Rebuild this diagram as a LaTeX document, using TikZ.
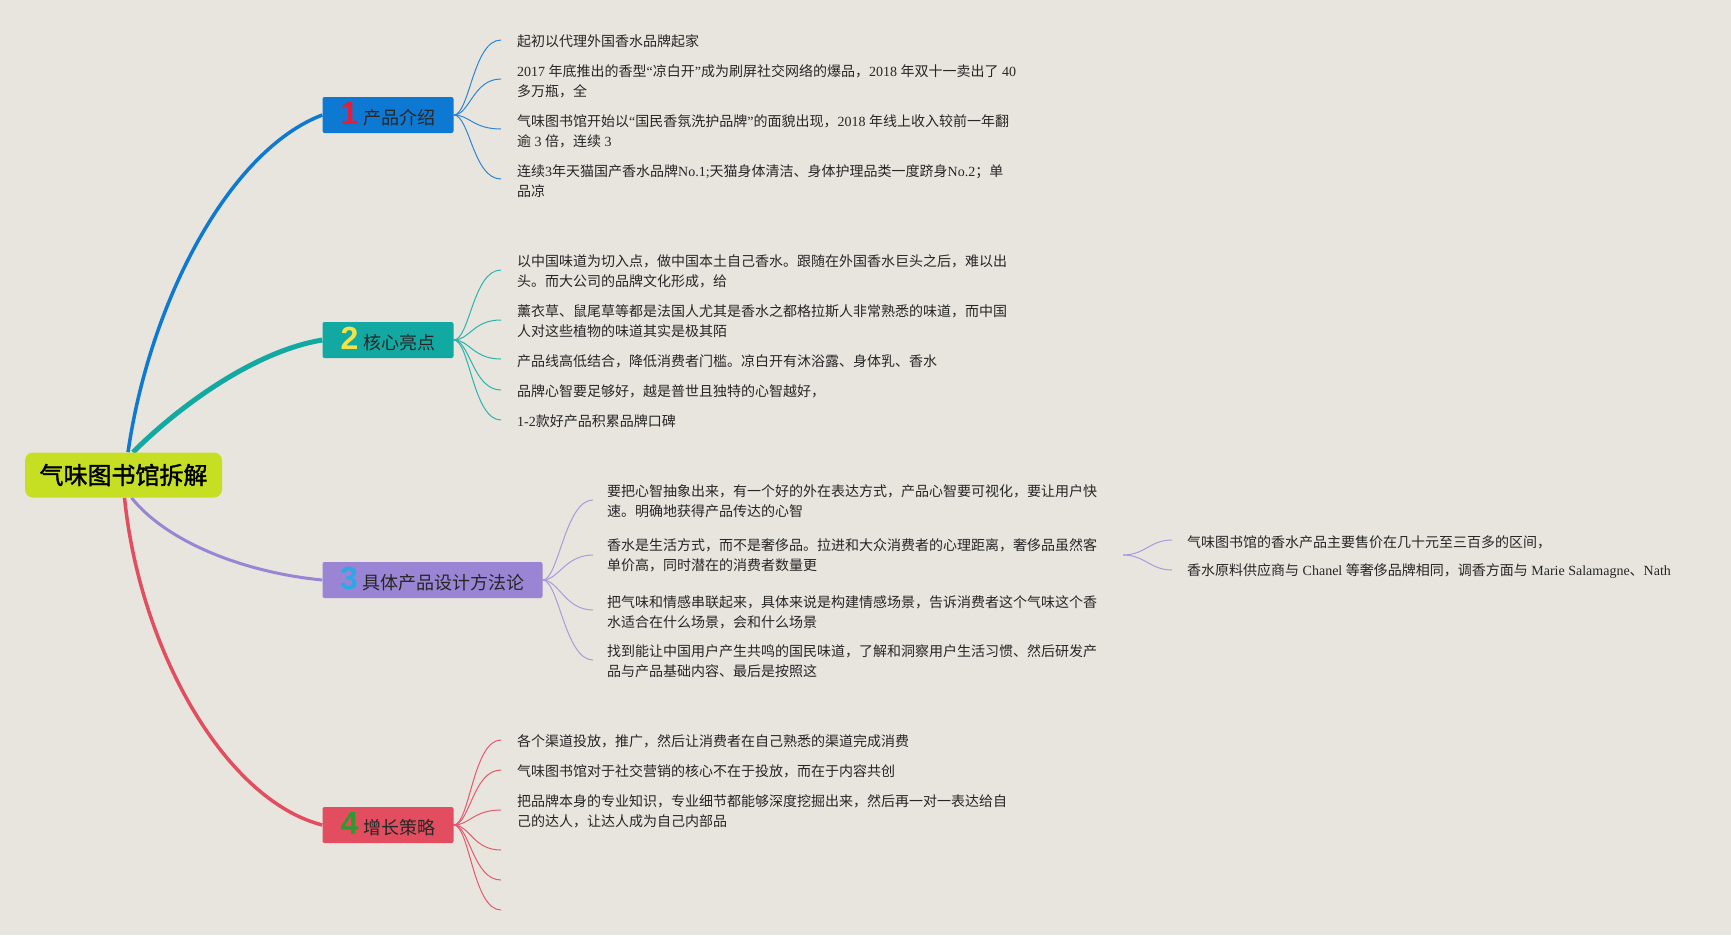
\documentclass[tikz,border=0pt]{standalone}
\usepackage{fontspec}
\setmainfont{Noto Sans CJK SC}
\newfontfamily\latf{Liberation Serif}
\newfontfamily\digf{Liberation Sans}
\newfontfamily\cjkb{Noto Sans CJK SC}[FakeBold=1.6]
\newcommand\lat[1]{{\latf #1}}
\newcommand\dig[2]{{\digf\bfseries\fontsize{32}{32}\selectfont\color{#1}#2}\hspace{5pt}}
\definecolor{bgc}{HTML}{E8E5DE}
\definecolor{c0}{HTML}{C6DF22}
\definecolor{cb}{HTML}{0E79D2}
\definecolor{ct}{HTML}{12A9A2}
\definecolor{cp}{HTML}{9A85D4}
\definecolor{cr}{HTML}{E24E60}
\definecolor{lb}{HTML}{2D86D5}
\definecolor{lt}{HTML}{28B5AE}
\definecolor{lp}{HTML}{A99BDD}
\definecolor{lr}{HTML}{E45A6E}
\definecolor{d1}{HTML}{E41E3A}
\definecolor{d2}{HTML}{F2E34A}
\definecolor{d3}{HTML}{2BA8E6}
\definecolor{d4}{HTML}{2E9A2E}
\definecolor{tc}{HTML}{262626}
\pgfdeclarelayer{bgl}
\pgfdeclarelayer{edges}
\pgfsetlayers{bgl,edges,main}
\tikzset{
  root/.style={fill=c0, rounded corners=8pt, minimum width=197pt, minimum height=45pt, inner sep=0pt, text=black, font=\cjkb\fontsize{24}{28}\selectfont},
  topic/.style={rounded corners=2pt, minimum height=36pt, inner sep=0pt, text height=22pt, text depth=3pt, text=tc, font=\fontsize{18}{22}\selectfont},
  leaf/.style={anchor=west, inner sep=0pt, align=left, text=tc, font=\fontsize{14}{20}\selectfont},
  sub/.style={line width=1pt},
}
\begin{document}
\begin{tikzpicture}[x=1pt,y=-1pt]
\begin{pgfonlayer}{bgl}
\fill[bgc] (0,0) rectangle (1731,935);
\end{pgfonlayer}
\useasboundingbox (0,0) rectangle (1731,935);

% main nodes
\node[root] (c) at (123.5,475) {气味图书馆拆解};
\node[topic, fill=cb, minimum width=131pt] (n1) at (388,115) {\dig{d1}{1}产品介绍};
\node[topic, fill=ct, minimum width=131pt] (n2) at (388,340) {\dig{d2}{2}核心亮点};
\node[topic, fill=cp, minimum width=220pt] (n3) at (432.5,580) {\dig{d3}{3}具体产品设计方法论};
\node[topic, fill=cr, minimum width=131pt] (n4) at (388,825) {\dig{d4}{4}增长策略};

% leaves of 1
\node[leaf] (c11) at (517,41) {起初以代理外国香水品牌起家};
\node[leaf] (c12) at (517,81) {\lat{2017 }年底推出的香型\lat{“}凉白开\lat{”}成为刷屏社交网络的爆品，\lat{2018 }年双十一卖出了\lat{ 40}\\多万瓶，全};
\node[leaf] (c13) at (517,131) {气味图书馆开始以\lat{“}国民香氛洗护品牌\lat{”}的面貌出现，\lat{2018 }年线上收入较前一年翻\\逾\lat{ 3 }倍，连续\lat{ 3}};
\node[leaf] (c14) at (517,181) {连续\lat{3}年天猫国产香水品牌\lat{No.1;}天猫身体清洁、身体护理品类一度跻身\lat{No.2}；单\\品凉};
\coordinate (e11) at (501,40);
\coordinate (e12) at (501,79);
\coordinate (e13) at (501,129);
\coordinate (e14) at (501,179);

% leaves of 2
\node[leaf] (c21) at (517,271) {以中国味道为切入点，做中国本土自己香水。跟随在外国香水巨头之后，难以出\\头。而大公司的品牌文化形成，给};
\node[leaf] (c22) at (517,321) {薰衣草、鼠尾草等都是法国人尤其是香水之都格拉斯人非常熟悉的味道，而中国\\人对这些植物的味道其实是极其陌};
\node[leaf] (c23) at (517,361) {产品线高低结合，降低消费者门槛。凉白开有沐浴露、身体乳、香水};
\node[leaf] (c24) at (517,391) {品牌心智要足够好，越是普世且独特的心智越好，};
\node[leaf] (c25) at (517,421) {\lat{1-2}款好产品积累品牌口碑};
\coordinate (e21) at (501,270);
\coordinate (e22) at (501,320);
\coordinate (e23) at (501,359);
\coordinate (e24) at (501,390);
\coordinate (e25) at (501,420);

% leaves of 3
\node[leaf] (c31) at (607,501) {要把心智抽象出来，有一个好的外在表达方式，产品心智要可视化，要让用户快\\速。明确地获得产品传达的心智};
\node[leaf] (c32) at (607,555) {香水是生活方式，而不是奢侈品。拉进和大众消费者的心理距离，奢侈品虽然客\\单价高，同时潜在的消费者数量更};
\node[leaf] (c33) at (607,612) {把气味和情感串联起来，具体来说是构建情感场景，告诉消费者这个气味这个香\\水适合在什么场景，会和什么场景};
\node[leaf] (c34) at (607,661) {找到能让中国用户产生共鸣的国民味道，了解和洞察用户生活习惯、然后研发产\\品与产品基础内容、最后是按照这};
\coordinate (e31) at (593,500);
\coordinate (e32) at (593,555);
\coordinate (e33) at (593,610);
\coordinate (e34) at (593,660);

% sub leaves of c32
\coordinate (j32) at (1123,555);
\node[leaf] (s1) at (1187,542) {气味图书馆的香水产品主要售价在几十元至三百多的区间，};
\node[leaf] (s2) at (1187,571) {香水原料供应商与\lat{ Chanel }等奢侈品牌相同，调香方面与\lat{ Marie Salamagne}、\lat{Nath}};
\coordinate (es1) at (1172,540);
\coordinate (es2) at (1172,570);

% leaves of 4
\node[leaf] (c41) at (517,741) {各个渠道投放，推广，然后让消费者在自己熟悉的渠道完成消费};
\node[leaf] (c42) at (517,771) {气味图书馆对于社交营销的核心不在于投放，而在于内容共创};
\node[leaf] (c43) at (517,811) {把品牌本身的专业知识，专业细节都能够深度挖掘出来，然后再一对一表达给自\\己的达人，让达人成为自己内部品};
\coordinate (e41) at (501,740);
\coordinate (e42) at (501,770);
\coordinate (e43) at (501,810);
\coordinate (e44) at (501,850);
\coordinate (e45) at (501,880);
\coordinate (e46) at (501,910);

\begin{pgfonlayer}{edges}
% main branches
\draw[cb, line width=3.5pt] ([xshift=4.5pt]c.north) .. controls (150,300) and (230,150) .. (n1.west);
\draw[ct, line width=5pt] ([xshift=9.5pt]c.north) .. controls (173,412) and (250,352) .. (n2.west);
\draw[cp, line width=3pt] ([xshift=8pt]c.south) .. controls (165,540) and (240,572) .. (n3.west);
\draw[cr, line width=3.5pt] ([xshift=1pt]c.south) .. controls (140,650) and (225,800) .. (n4.west);
% sub branches
\foreach \e in {e11,e12,e13,e14}
  \draw[lb, sub] (n1.east) .. controls +(16,0) and +(-28,0) .. (\e);
\foreach \e in {e21,e22,e23,e24,e25}
  \draw[lt, sub] (n2.east) .. controls +(16,0) and +(-28,0) .. (\e);
\foreach \e in {e31,e32,e33,e34}
  \draw[lp, sub] (n3.east) .. controls +(16,0) and +(-28,0) .. (\e);
\foreach \e in {es1,es2}
  \draw[lp, sub] (j32) .. controls +(22,0) and +(-22,0) .. (\e);
\foreach \e in {e41,e42,e43,e44,e45,e46}
  \draw[lr, sub] (n4.east) .. controls +(16,0) and +(-28,0) .. (\e);
\end{pgfonlayer}
\end{tikzpicture}
\end{document}
